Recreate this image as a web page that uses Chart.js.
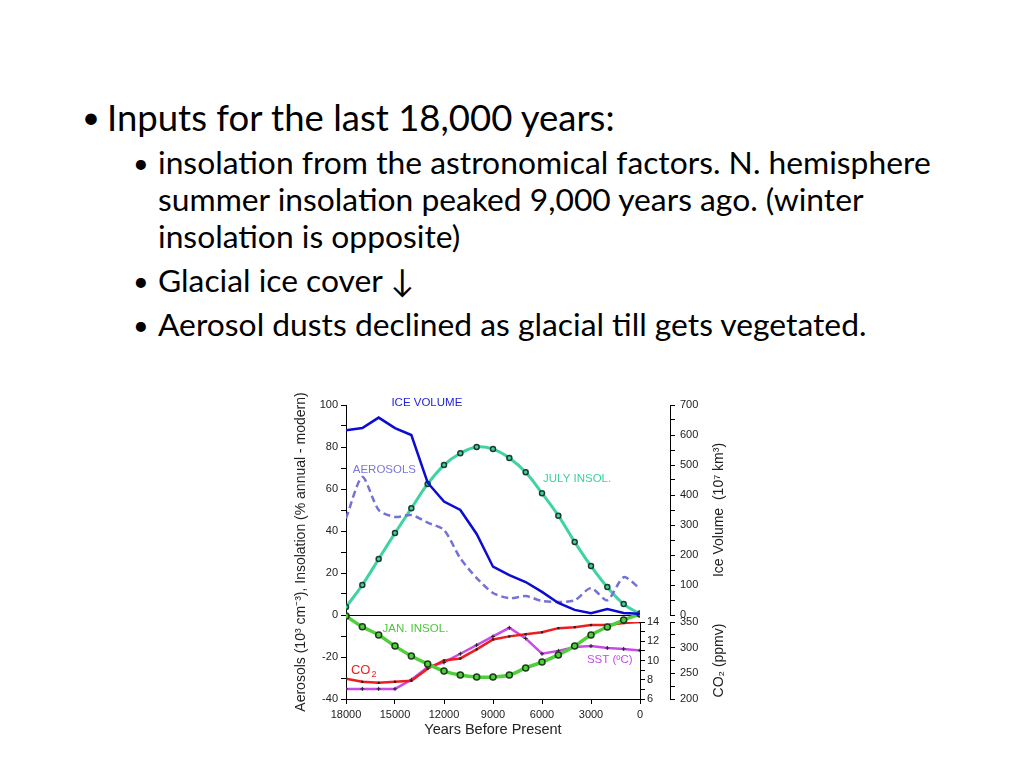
<!DOCTYPE html>
<html>
<head>
<meta charset="utf-8">
<script src="https://cdn.jsdelivr.net/npm/chart.js@4.4.1/dist/chart.umd.min.js"></script>
<style>
  body { margin: 0; width: 1024px; height: 768px; background: #fff; position: relative; overflow: hidden;
         font-family: Lato, "Open Sans", sans-serif; color: #000; }
  .line { position: absolute; white-space: nowrap; line-height: 1; }
  .main { font-size: 36.5px; }
  .sub { font-size: 31.8px; }
  .dot { font-size: 31px; }
  .sdot { font-size: 27px; }
  #wrap { position: absolute; left: 290px; top: 380px; }
</style>
</head>
<body>
<div class="line dot" style="left:82px;top:101px">•</div>
<div class="line main" style="left:107px;top:99px">Inputs for the last 18,000 years:</div>
<div class="line sdot" style="left:133px;top:149px">•</div>
<div class="line sub" style="left:158px;top:147px">insolation from the astronomical factors. N. hemisphere</div>
<div class="line sub" style="left:158px;top:184px">summer insolation peaked 9,000 years ago. (winter</div>
<div class="line sub" style="left:158px;top:221px">insolation is opposite)</div>
<div class="line sdot" style="left:133px;top:267px">•</div>
<div class="line sub" style="left:158px;top:265px">Glacial ice cover ↓</div>
<div class="line sdot" style="left:133px;top:311px">•</div>
<div class="line sub" style="left:158px;top:309px">Aerosol dusts declined as glacial till gets vegetated.</div>

<div id="wrap"><canvas id="climateChart" width="439" height="362"></canvas></div>

<script>
// years before present, one point every 1000 years
const years = [18000, 17000, 16000, 15000, 14000, 13000, 12000, 11000, 10000, 9000,
               8000, 7000, 6000, 5000, 4000, 3000, 2000, 1000, 0];

// upper panel
const iceVolume = [616, 623, 658, 623, 600, 441, 378, 350, 270, 161, 133, 110, 77, 40, 17, 6, 20, 7, 4];
const aerosols = [46, 65.7, 50, 46.7, 47.6, 44, 40.5, 27, 17.6, 10.5, 8, 9, 6.7, 6.2, 7, 12.8, 7, 18, 12.6];
const julyInsol = [3.8, 14.3, 26.7, 39, 50.8, 62.4, 71.4, 77, 80, 79, 74.8, 68, 58, 47.3, 34.8, 23.3, 13.3, 5.2, 0.5];

// lower panel
const janInsol = [-0.5, -5.6, -9.5, -14.8, -19.5, -23.3, -26.7, -28.6, -29.5, -29.5, -28.6, -25.2, -22.4, -19, -14.8, -9.5, -5.7, -2.4, 0.5];
const co2 = [239.5, 233.6, 231.6, 233.6, 235.5, 259, 275, 279, 296.7, 316, 322, 326, 330, 338, 340, 344, 344, 348, 350];
const sst = [7.05, 7.05, 7.05, 7.05, 8, 9.3, 9.8, 10.7, 11.6, 12.5, 13.4, 12.3, 10.7, 11, 11.4, 11.5, 11.3, 11.2, 11.05];

// in-plot series names, anchored in data units (year, left axis value)
const seriesNames = [
  { text: 'ICE VOLUME', year: 13050, val: 101, color: '#2323d8' },
  { text: 'AEROSOLS', year: 15650, val: 69, color: '#7a78d8' },
  { text: 'JULY INSOL.', year: 3850, val: 65, color: '#3fcf9f' },
  { text: 'JAN. INSOL.', year: 13750, val: -6.8, color: '#4cc83c' },
  { text: 'SST (ºC)', year: 1850, val: -21.4, color: '#c44be6' }
];

// right-hand axis titles, read bottom to top like the left one
const rightTitles = [
  { text: 'Ice Volume  (10⁷ km³)', axis: 'yIce' },
  { text: 'CO₂ (ppmv)', axis: 'yCo2' }
];

const pts = arr => years.map((yr, i) => ({ x: yr, y: arr[i] }));
const FONT = '"Liberation Sans", Arial, sans-serif';
Chart.defaults.font.family = FONT;
Chart.defaults.color = '#222';

const seriesLabels = {
  id: 'seriesLabels',
  afterDatasetsDraw(chart) {
    const { ctx, scales } = chart;
    const x = scales.x, y = scales.y;
    ctx.save();
    ctx.font = '11.5px ' + FONT;
    ctx.textAlign = 'center';
    ctx.textBaseline = 'middle';
    seriesNames.forEach(s => {
      ctx.fillStyle = s.color;
      ctx.fillText(s.text, x.getPixelForValue(s.year), y.getPixelForValue(s.val));
    });
    // CO2 with subscript
    const cx = x.getPixelForValue(17700), cy = y.getPixelForValue(-26.2);
    ctx.fillStyle = '#ee2020';
    ctx.textAlign = 'left';
    ctx.font = '13px ' + FONT;
    ctx.fillText('CO', cx, cy);
    const w = ctx.measureText('CO').width;
    ctx.font = '9px ' + FONT;
    ctx.fillText('2', cx + w + 1, cy + 4);
    ctx.restore();
  },
  afterDraw(chart) {
    const { ctx } = chart;
    ctx.save();
    ctx.font = '14px ' + FONT;
    ctx.fillStyle = '#222';
    ctx.textAlign = 'center';
    ctx.textBaseline = 'middle';
    rightTitles.forEach(t => {
      const s = chart.scales[t.axis];
      ctx.save();
      ctx.translate(s.right - 10, (s.top + s.bottom) / 2);
      ctx.rotate(-Math.PI / 2);
      ctx.fillText(t.text, 0, 0);
      ctx.restore();
    });
    ctx.restore();
  }
};

const hidden = { ticks: { display: false }, grid: { display: false }, border: { display: false } };
const tickGrid = { drawOnChartArea: false, tickLength: 5, color: '#000' };

new Chart(document.getElementById('climateChart'), {
  type: 'line',
  data: {
    datasets: [
      { label: 'Ice volume', data: pts(iceVolume), yAxisID: 'yIce', borderColor: '#0b0bd2', borderWidth: 2.5,
        pointRadius: 0, tension: 0 },
      { label: 'Aerosols', data: pts(aerosols), yAxisID: 'y', borderColor: '#7472d6', borderWidth: 2.5,
        borderDash: [7, 4], pointRadius: 0, tension: 0.25 },
      { label: 'July insolation', data: pts(julyInsol), yAxisID: 'y', borderColor: '#3fd3a2', borderWidth: 3,
        pointRadius: 2.5, pointBackgroundColor: '#3fd3a2', pointBorderColor: '#1d3d2a', pointBorderWidth: 1.5, tension: 0.4 },
      { label: 'Jan insolation', data: pts(janInsol), yAxisID: 'y', borderColor: '#4fcf3a', borderWidth: 3.5,
        pointRadius: 3, pointBackgroundColor: '#4fcf3a', pointBorderColor: '#1d3d1d', pointBorderWidth: 1.5, tension: 0.4 },
      { label: 'CO2', data: pts(co2), yAxisID: 'yCo2', borderColor: '#ee1c1c', borderWidth: 2.5,
        pointStyle: 'rect', pointRadius: 1.6, pointBackgroundColor: '#222', pointBorderColor: '#222', pointBorderWidth: 0, tension: 0 },
      { label: 'SST', data: pts(sst), yAxisID: 'ySst', borderColor: '#c84ae8', borderWidth: 2.5,
        pointStyle: 'cross', pointRadius: 2, pointBorderColor: '#222', pointBorderWidth: 1, tension: 0 }
    ]
  },
  options: {
    responsive: false,
    animation: false,
    layout: { padding: { top: 25, left: 0, right: 0, bottom: 0 } },
    plugins: { legend: { display: false }, tooltip: { enabled: false } },
    scales: {
      x: {
        type: 'linear', min: 0, max: 18000, reverse: true,
        afterFit: s => { s.height = 43; },
        ticks: { stepSize: 3000, autoSkip: false, maxRotation: 0, padding: 4, font: { size: 11 },
                 callback: v => String(v) },
        grid: tickGrid,
        border: { color: '#000' },
        title: { display: true, text: 'Years Before Present', font: { size: 14.5 }, padding: { top: 0, bottom: 3 } }
      },
      y: {
        type: 'linear', position: 'left', min: -40, max: 100,
        afterFit: s => { s.width = 56; },
        ticks: { stepSize: 10, autoSkip: false, padding: 3, font: { size: 11 },
                 callback: v => (v % 20 === 0 ? v : '') },
        grid: { drawOnChartArea: true, tickLength: 5, tickColor: '#000',
                color: c => (c.tick && c.tick.value === 0 ? '#000' : 'rgba(0,0,0,0)') },
        border: { color: '#000' },
        title: { display: true, text: 'Aerosols (10³ cm⁻³), Insolation (% annual - modern)',
                 font: { size: 14 }, padding: { top: 3, bottom: 2 } }
      },
      ySstPad: Object.assign({ type: 'linear', position: 'right', stack: 'sst', stackWeight: 217, weight: 1,
        afterFit: s => { s.width = 30; } }, hidden),
      ySst: {
        type: 'linear', position: 'right', stack: 'sst', stackWeight: 77, weight: 1, min: 6, max: 14,
        afterFit: s => { s.width = 30; },
        ticks: { stepSize: 1, autoSkip: false, padding: 2, font: { size: 11 },
                 callback: v => (v % 2 === 0 ? v : '') },
        grid: tickGrid,
        border: { color: '#000' }
      },
      yIce: {
        type: 'linear', position: 'right', stack: 'ice', stackWeight: 210, weight: 2, min: 0, max: 700,
        afterFit: s => { s.width = 59; },
        ticks: { stepSize: 50, autoSkip: false, padding: 5, font: { size: 11 },
                 callback: v => (v % 100 === 0 ? v : '') },
        grid: tickGrid,
        border: { color: '#000' }
      },
      yGap: Object.assign({ type: 'linear', position: 'right', stack: 'ice', stackWeight: 7, weight: 2,
        afterFit: s => { s.width = 59; } }, hidden),
      yCo2: {
        type: 'linear', position: 'right', stack: 'ice', stackWeight: 77, weight: 2, min: 200, max: 350,
        afterFit: s => { s.width = 59; },
        ticks: { stepSize: 25, autoSkip: false, padding: 5, font: { size: 11 },
                 callback: v => (v % 50 === 0 ? v : '') },
        grid: tickGrid,
        border: { color: '#000' }
      }
    }
  },
  plugins: [seriesLabels]
});
</script>
</body>
</html>
